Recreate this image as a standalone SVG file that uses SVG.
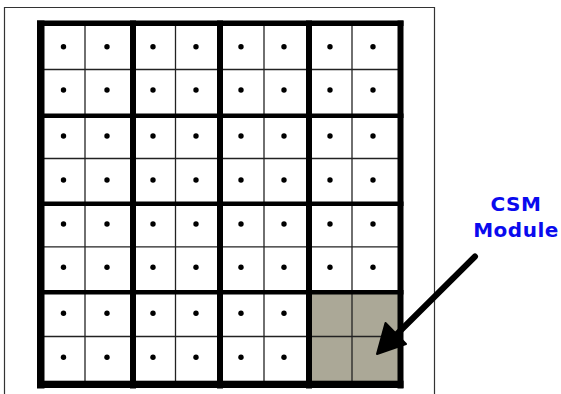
<svg xmlns="http://www.w3.org/2000/svg" width="561" height="394" viewBox="0 0 561 394">
<style>
.frame{fill:none;stroke:#333;stroke-width:1.2}
.thick{fill:#000}
.thin{stroke:#222;stroke-width:1.3}
.dot{fill:#000}
.label{font-family:"DejaVu Sans",Verdana,sans-serif;font-weight:bold;font-size:20px;fill:#0a0aee;text-anchor:middle;letter-spacing:0.5px}
</style>
<rect width="561" height="394" fill="#fff"/>
<path class="frame" d="M4.5,395 V7.5 H434.5 V395"/>
<g id="csm-module">
<rect x="312" y="294" width="86" height="87" fill="#aba897"/>
</g>
<g id="grid-thin">
<line class="thin" x1="85" y1="23" x2="85" y2="385"/>
<line class="thin" x1="175.5" y1="23" x2="175.5" y2="385"/>
<line class="thin" x1="264" y1="23" x2="264" y2="385"/>
<line class="thin" x1="352" y1="23" x2="352" y2="385"/>
<line class="thin" x1="40" y1="69.5" x2="400" y2="69.5"/>
<line class="thin" x1="40" y1="158.5" x2="400" y2="158.5"/>
<line class="thin" x1="40" y1="246.8" x2="400" y2="246.8"/>
<line class="thin" x1="40" y1="336.5" x2="400" y2="336.5"/>
</g>
<g id="grid-thick">
<rect class="thick" x="37" y="20.5" width="7.5" height="368"/>
<rect class="thick" x="130" y="20.5" width="6" height="368"/>
<rect class="thick" x="217" y="20.5" width="6" height="368"/>
<rect class="thick" x="306" y="20.5" width="6" height="368"/>
<rect class="thick" x="397.5" y="20.5" width="6" height="368"/>
<rect class="thick" x="37" y="20.5" width="366.5" height="5.5"/>
<rect class="thick" x="37" y="113.5" width="366.5" height="4.5"/>
<rect class="thick" x="37" y="201.5" width="366.5" height="4.5"/>
<rect class="thick" x="37" y="290" width="366.5" height="4.5"/>
<rect class="thick" x="37" y="380.7" width="366.5" height="7.3"/>
</g>
<g id="dots">
<g id="row1"><circle class="dot" cx="63.5" cy="46.7" r="2.7"/><circle class="dot" cx="107" cy="46.7" r="2.7"/><circle class="dot" cx="153" cy="46.7" r="2.7"/><circle class="dot" cx="196" cy="46.7" r="2.7"/><circle class="dot" cx="241" cy="46.7" r="2.7"/><circle class="dot" cx="284" cy="46.7" r="2.7"/><circle class="dot" cx="330" cy="46.7" r="2.7"/><circle class="dot" cx="373" cy="46.7" r="2.7"/></g>
<g id="row2"><circle class="dot" cx="63.5" cy="90" r="2.7"/><circle class="dot" cx="107" cy="90" r="2.7"/><circle class="dot" cx="153" cy="90" r="2.7"/><circle class="dot" cx="196" cy="90" r="2.7"/><circle class="dot" cx="241" cy="90" r="2.7"/><circle class="dot" cx="284" cy="90" r="2.7"/><circle class="dot" cx="330" cy="90" r="2.7"/><circle class="dot" cx="373" cy="90" r="2.7"/></g>
<g id="row3"><circle class="dot" cx="63.5" cy="136" r="2.7"/><circle class="dot" cx="107" cy="136" r="2.7"/><circle class="dot" cx="153" cy="136" r="2.7"/><circle class="dot" cx="196" cy="136" r="2.7"/><circle class="dot" cx="241" cy="136" r="2.7"/><circle class="dot" cx="284" cy="136" r="2.7"/><circle class="dot" cx="330" cy="136" r="2.7"/><circle class="dot" cx="373" cy="136" r="2.7"/></g>
<g id="row4"><circle class="dot" cx="63.5" cy="180" r="2.7"/><circle class="dot" cx="107" cy="180" r="2.7"/><circle class="dot" cx="153" cy="180" r="2.7"/><circle class="dot" cx="196" cy="180" r="2.7"/><circle class="dot" cx="241" cy="180" r="2.7"/><circle class="dot" cx="284" cy="180" r="2.7"/><circle class="dot" cx="330" cy="180" r="2.7"/><circle class="dot" cx="373" cy="180" r="2.7"/></g>
<g id="row5"><circle class="dot" cx="63.5" cy="224" r="2.7"/><circle class="dot" cx="107" cy="224" r="2.7"/><circle class="dot" cx="153" cy="224" r="2.7"/><circle class="dot" cx="196" cy="224" r="2.7"/><circle class="dot" cx="241" cy="224" r="2.7"/><circle class="dot" cx="284" cy="224" r="2.7"/><circle class="dot" cx="330" cy="224" r="2.7"/><circle class="dot" cx="373" cy="224" r="2.7"/></g>
<g id="row6"><circle class="dot" cx="63.5" cy="267.3" r="2.7"/><circle class="dot" cx="107" cy="267.3" r="2.7"/><circle class="dot" cx="153" cy="267.3" r="2.7"/><circle class="dot" cx="196" cy="267.3" r="2.7"/><circle class="dot" cx="241" cy="267.3" r="2.7"/><circle class="dot" cx="284" cy="267.3" r="2.7"/><circle class="dot" cx="330" cy="267.3" r="2.7"/><circle class="dot" cx="373" cy="267.3" r="2.7"/></g>
<g id="row7"><circle class="dot" cx="63.5" cy="313.3" r="2.7"/><circle class="dot" cx="107" cy="313.3" r="2.7"/><circle class="dot" cx="153" cy="313.3" r="2.7"/><circle class="dot" cx="196" cy="313.3" r="2.7"/><circle class="dot" cx="241" cy="313.3" r="2.7"/><circle class="dot" cx="284" cy="313.3" r="2.7"/></g>
<g id="row8"><circle class="dot" cx="63.5" cy="357.3" r="2.7"/><circle class="dot" cx="107" cy="357.3" r="2.7"/><circle class="dot" cx="153" cy="357.3" r="2.7"/><circle class="dot" cx="196" cy="357.3" r="2.7"/><circle class="dot" cx="241" cy="357.3" r="2.7"/><circle class="dot" cx="284" cy="357.3" r="2.7"/></g>
</g>
<g id="label">
<text class="label" x="516" y="211">CSM</text>
<text class="label" x="516" y="236.5">Module</text>
</g>
<g id="connectors">
<line x1="475" y1="256.5" x2="393" y2="338" stroke="#000" stroke-width="6" stroke-linecap="round"/>
<polygon points="377,354 385.5,323 406,344" fill="#000" stroke="#000" stroke-width="2" stroke-linejoin="round"/>
</g>
</svg>
